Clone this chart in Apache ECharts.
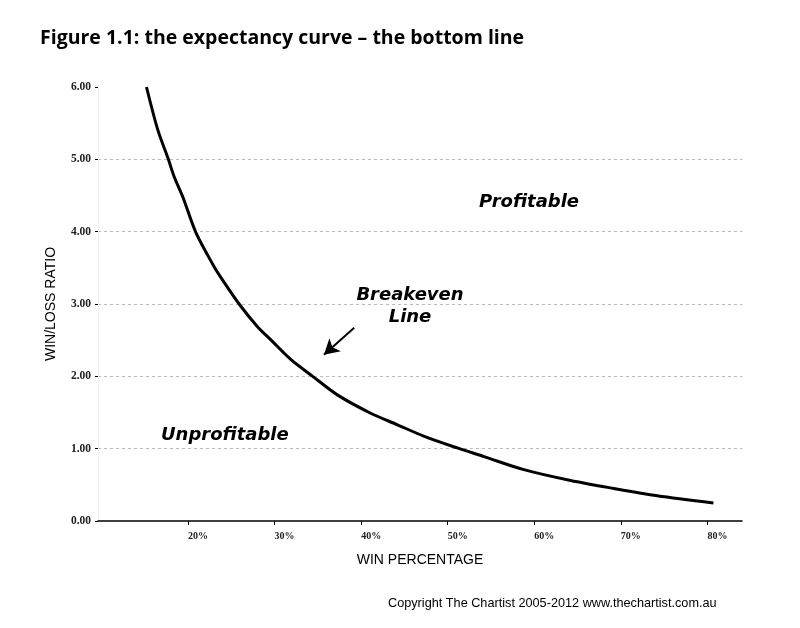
<!DOCTYPE html>
<html>
<head>
<meta charset="utf-8">
<script src="https://cdn.jsdelivr.net/npm/echarts@6/dist/echarts.min.js"></script>
<style>
html,body{margin:0;padding:0;background:#fff;}
#chart{width:800px;height:628px;}
</style>
</head>
<body>
<div id="chart"></div>
<script>
// Win percentage (%) and breakeven win/loss ratio
var winPct = [15.2, 16.5, 17.7, 18.4, 19.4, 20.9, 22.9, 24.0, 25.9, 28.0, 29.6, 31.9, 34.4, 37.3, 41.1, 44.2, 47.3, 51.1, 54.2, 58.8, 64.2, 69.2, 74.2, 80.7];
var ratio  = [6.00, 5.41, 5.01, 4.76, 4.48, 3.99, 3.54, 3.33, 3.00, 2.69, 2.50, 2.23, 2.00, 1.74, 1.49, 1.33, 1.17, 1.01, 0.89, 0.71, 0.56, 0.45, 0.35, 0.25];
var xTicks = [20, 30, 40, 50, 60, 70, 80];
var arrowFrom = [39.2, 2.67];
var arrowTo = [35.7, 2.30];

var chart = echarts.init(document.getElementById('chart'));
var seriesData = winPct.map(function (p, i) { return [p, ratio[i]]; });

chart.setOption({
  backgroundColor: '#ffffff',
  animation: false,
  title: {
    text: 'Figure 1.1: the expectancy curve \u2013 the bottom line',
    left: 35, top: 23,
    textStyle: { fontFamily: 'Open Sans', fontWeight: 'bold', fontSize: 19.5, color: '#000' }
  },
  grid: { left: 98, right: 58, top: 87, bottom: 107 },
  xAxis: {
    type: 'value', min: 9.6, max: 84,
    name: 'WIN PERCENTAGE', nameLocation: 'middle', nameGap: 32,
    nameTextStyle: { fontFamily: 'Liberation Sans', fontSize: 14, color: '#000' },
    axisLine: { show: true, lineStyle: { color: '#000', width: 1.5 } },
    axisTick: { show: true, length: 4, customValues: xTicks, lineStyle: { color: '#000' } },
    axisLabel: {
      customValues: xTicks, align: 'left', margin: 10,
      formatter: function (v) { return v + '%'; },
      fontFamily: 'Liberation Serif', fontWeight: 'bold', fontSize: 10, color: '#222'
    },
    splitLine: { show: false }
  },
  yAxis: {
    type: 'value', min: 0, max: 6, interval: 1,
    name: 'WIN/LOSS RATIO', nameLocation: 'middle', nameGap: 40,
    nameTextStyle: { fontFamily: 'Liberation Sans', fontSize: 14, color: '#000' },
    axisLine: { show: true, lineStyle: { color: '#eeeeee', width: 1 } },
    axisTick: { show: true, length: 3, lineStyle: { color: '#000' } },
    axisLabel: {
      margin: 7,
      formatter: function (v) { return v.toFixed(2); },
      fontFamily: 'Liberation Serif', fontWeight: 'bold', fontSize: 11.5, color: '#222'
    },
    splitLine: { show: true, showMaxLine: false, showMinLine: false, lineStyle: { color: '#bbbbbb', type: [3, 3], width: 1 } }
  },
  series: [{
    type: 'line',
    data: seriesData,
    smooth: 0.3,
    showSymbol: false,
    lineStyle: { color: '#000', width: 3 },
    markLine: {
      silent: true,
      symbol: ['none', 'arrow'],
      symbolSize: [13, 15],
      label: { show: false },
      lineStyle: { color: '#000', width: 2, type: 'solid' },
      data: [[{ coord: arrowFrom }, { coord: arrowTo }]]
    }
  }],
  graphic: [
    { type: 'text', left: 479, top: 193, style: { text: 'Profitable', font: 'italic bold 18px "DejaVu Sans"', fill: '#000' } },
    { type: 'text', x: 410, y: 286, style: { text: 'Breakeven', align: 'center', font: 'italic bold 18px "DejaVu Sans"', fill: '#000' } },
    { type: 'text', x: 410, y: 308, style: { text: 'Line', align: 'center', font: 'italic bold 18px "DejaVu Sans"', fill: '#000' } },
    { type: 'text', left: 161, top: 426, style: { text: 'Unprofitable', font: 'italic bold 18px "DejaVu Sans"', fill: '#000' } },
    { type: 'text', left: 388, top: 597, style: { text: 'Copyright The Chartist 2005-2012 www.thechartist.com.au', font: '12.7px "Liberation Sans"', fill: '#000' } }
  ]
});
</script>
</body>
</html>
